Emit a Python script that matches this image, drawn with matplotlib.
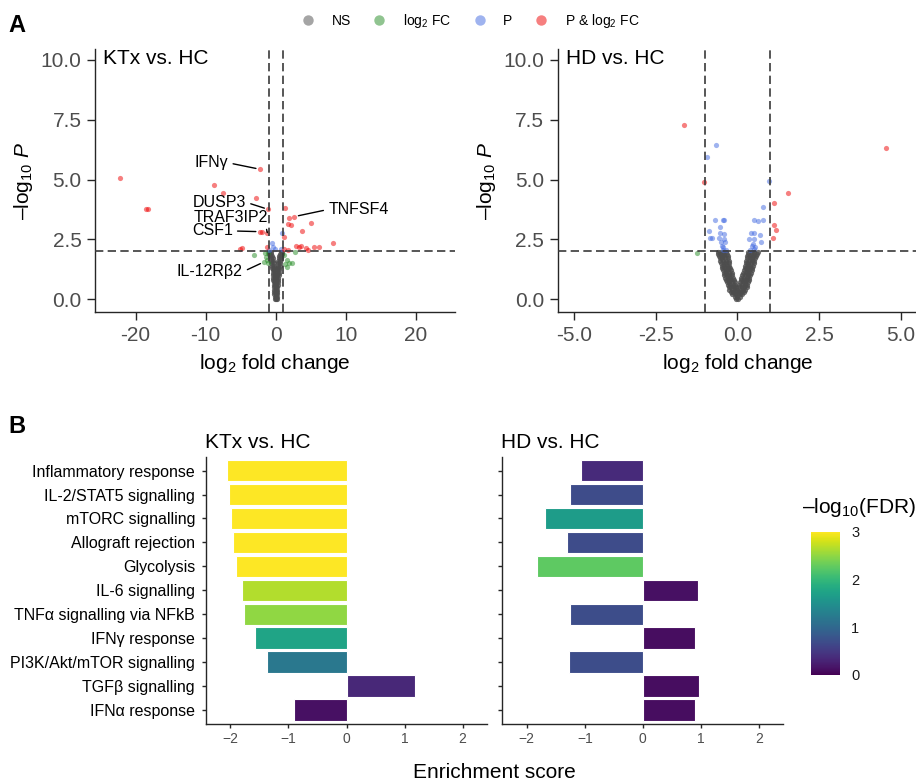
import matplotlib
matplotlib.use('Agg')
import matplotlib.pyplot as plt
import numpy as np
from matplotlib.lines import Line2D
from matplotlib import colors as mcolors
from matplotlib.cm import ScalarMappable

plt.rcParams['font.family'] = ['Liberation Sans', 'DejaVu Sans']
plt.rcParams['mathtext.fontset'] = 'custom'
plt.rcParams['mathtext.rm'] = 'Liberation Sans'
plt.rcParams['mathtext.it'] = 'Liberation Sans:italic'
plt.rcParams['mathtext.bf'] = 'Liberation Sans:bold'

# ---------------- DATA ----------------
# Volcano KTx vs HC
ktx_red_x = [-22.3, -18.5, -18.3, -8.8, -7.57, -2.81, -2.24, -1.05, -2.24, -1.9, -1.29,
             -5.1, -4.77, -1.2, 1.33, 1.9, 2.66, 1.71, 2.14, 5.04, 3.8, 1.23,
             1.23, 1.8, 2.9, 3.33, 3.61, 4.33, 4.66, 5.52, 6.23, 8.14]
ktx_red_y = [5.05, 3.75, 3.75, 4.76, 4.42, 4.24, 5.43, 3.75, 2.82, 2.82, 2.78,
             2.08, 2.12, 2.18, 3.81, 3.40, 3.45, 3.14, 3.08, 3.19, 2.86, 2.61,
             2.09, 2.05, 2.22, 2.16, 2.22, 2.12, 2.05, 2.16, 2.16, 2.33]
ktx_blue_x = [-0.57, -0.34, -0.91, 0.86, 0.71, -0.1]
ktx_blue_y = [2.33, 2.19, 2.05, 2.77, 2.08, 2.1]
ktx_green_x = [-3.06, -1.5, -1.14, -1.63, -1.14, -1.4, 1.57, 1.95, 2.29, 1.57, 1.14, 2.76, -1.3, 1.3]
ktx_green_y = [1.84, 1.93, 1.91, 1.56, 1.49, 1.77, 1.63, 1.52, 1.49, 1.35, 1.84, 1.95, 1.65, 1.45]
ktx_ns_rows = [
    (0.0, [-0.15, 0.0, 0.15]), (0.1, [-0.15, 0.0, 0.15]), (0.2, [-0.2, 0.0, 0.2]),
    (0.3, [-0.2, 0.0, 0.2]), (0.4, [-0.25, 0.0, 0.25]), (0.5, [-0.25, 0.0, 0.25]),
    (0.6, [-0.3, -0.1, 0.1, 0.3]), (0.7, [-0.3, -0.1, 0.1, 0.3]), (0.8, [-0.35, -0.1, 0.1, 0.35]),
    (0.9, [-0.35, -0.1, 0.1, 0.35]), (1.0, [-0.4, -0.15, 0.15, 0.4]), (1.1, [-0.4, -0.15, 0.15, 0.4]),
    (1.2, [-0.45, -0.2, 0.2, 0.45]), (1.3, [-0.5, -0.25, 0.25, 0.5]), (1.4, [-0.55, -0.3, 0.3, 0.55]),
    (1.5, [-0.6, -0.3, 0.3, 0.6]), (1.6, [-0.65, -0.35, 0.35, 0.65]), (1.7, [-0.7, -0.4, 0.4, 0.7]),
    (1.8, [-0.8, -0.5, 0.5, 0.8]), (1.9, [-0.9, -0.6, 0.6, 0.9]), (1.97, [-0.95, -0.7, 0.7, 0.95]),
]

# Volcano HD vs HC
hd_red_x = [-1.63, -1.01, 4.54, 1.56, 1.11, 1.13, 1.18, 1.08]
hd_red_y = [7.28, 4.91, 6.31, 4.44, 4.0, 3.10, 2.90, 2.55]
hd_blue_x = [-0.66, -0.92, 0.98, 0.78, -0.67, -0.43, -0.40, 0.52, 0.62, 0.78, -0.53, -0.86,
             -0.54, -0.42, -0.84, -0.77, -0.56, -0.40, -0.50, -0.48, -0.43, -0.37,
             0.42, 0.51, 0.68, 0.37, 0.52, 0.73, 0.49, 0.55, 0.45, 0.52, -0.35, 0.40, -0.45]
hd_blue_y = [6.46, 5.93, 4.92, 3.86, 3.32, 3.32, 3.32, 3.32, 3.28, 3.32, 3.03, 2.86,
             2.76, 2.72, 2.54, 2.54, 2.54, 2.51, 2.37, 2.23, 2.16, 2.37,
             2.75, 2.75, 2.68, 2.51, 2.51, 2.40, 2.30, 2.16, 2.20, 2.10, 2.05, 2.05, 2.05]
hd_green_x = [-1.24]
hd_green_y = [1.91]
hd_ns_rows = [
    (0.0, [-0.03, 0.03]),
    (0.1, [-0.08, 0.0, 0.08]),
    (0.2, [-0.15, -0.07, 0.0, 0.07, 0.15]),
    (0.3, [-0.2, -0.12, -0.04, 0.04, 0.12, 0.2]),
    (0.4, [-0.24, -0.16, -0.08, 0.0, 0.08, 0.16, 0.24]),
    (0.5, [-0.27, -0.19, -0.11, -0.03, 0.05, 0.13, 0.21, 0.28]),
    (0.6, [-0.3, -0.22, -0.14, -0.06, 0.06, 0.14, 0.22, 0.3]),
    (0.7, [-0.32, -0.24, -0.16, -0.08, 0.08, 0.16, 0.24, 0.32]),
    (0.8, [-0.35, -0.27, -0.19, -0.1, 0.1, 0.19, 0.27, 0.35]),
    (0.9, [-0.37, -0.29, -0.21, -0.12, 0.12, 0.21, 0.29, 0.37]),
    (1.0, [-0.4, -0.32, -0.24, -0.15, 0.15, 0.24, 0.32, 0.4]),
    (1.1, [-0.42, -0.34, -0.26, -0.17, 0.17, 0.26, 0.34, 0.42]),
    (1.2, [-0.44, -0.36, -0.28, -0.2, 0.2, 0.28, 0.36, 0.44]),
    (1.3, [-0.46, -0.38, -0.3, -0.22, 0.22, 0.3, 0.38, 0.46]),
    (1.4, [-0.48, -0.4, -0.32, -0.24, 0.24, 0.32, 0.4, 0.48]),
    (1.5, [-0.5, -0.42, -0.34, -0.26, 0.26, 0.34, 0.42, 0.5]),
    (1.6, [-0.52, -0.44, -0.36, -0.27, 0.27, 0.36, 0.44, 0.52]),
    (1.7, [-0.54, -0.46, -0.38, -0.28, 0.28, 0.38, 0.46, 0.55]),
    (1.8, [-0.56, -0.48, -0.4, -0.3, 0.3, 0.4, 0.48, 0.57]),
    (1.9, [-0.58, -0.5, -0.42, -0.32, 0.32, 0.42, 0.5, 0.6]),
    (1.97, [-0.6, -0.52, -0.44, -0.36, 0.34, 0.44, 0.52, 0.62]),
]

# Gene labels in KTx volcano: (label, point x, point y, text x, text y, ha, relpos)
ktx_labels = [
    ('IFNγ', -2.24, 5.43, -6.77, 5.70, 'right', (1, 0.5)),
    ('DUSP3', -1.05, 3.75, -4.24, 4.05, 'right', (1, 0.5)),
    ('TRAF3IP2', -1.2, 2.78, -1.14, 3.43, 'right', (0.97, 0.0)),
    ('CSF1', -2.24, 2.82, -6.14, 2.85, 'right', (1, 0.5)),
    ('TNFSF4', 2.66, 3.45, 7.5, 3.75, 'left', (0, 0.5)),
    ('IL-12Rβ2', -1.63, 1.56, -4.71, 1.14, 'right', (1, 0.5)),
]

# Enrichment (GSEA)
pathways = ['Inflammatory response', 'IL-2/STAT5 signalling', 'mTORC signalling',
            'Allograft rejection', 'Glycolysis', 'IL-6 signalling',
            'TNFα signalling via NFkB', 'IFNγ response', 'PI3K/Akt/mTOR signalling',
            'TGFβ signalling', 'IFNα response']
ktx_score = [-2.05, -2.03, -1.99, -1.95, -1.90, -1.80, -1.76, -1.57, -1.37, 1.18, -0.91]
ktx_fdr = [3.0, 3.0, 3.0, 3.0, 3.0, 2.65, 2.5, 1.75, 1.2, 0.33, 0.12]
hd_score = [-1.07, -1.26, -1.68, -1.31, -1.83, 0.955, -1.26, 0.90, -1.27, 0.967, 0.90]
hd_fdr = [0.36, 0.68, 1.65, 0.68, 2.25, 0.12, 0.7, 0.1, 0.7, 0.1, 0.1]
fdr_ticks = [0, 1, 2, 3]

# ---------------- FIGURE ----------------
W, H = 916, 782
fig = plt.figure(figsize=(W / 100, H / 100), dpi=100)


def rect(l, t, r, b):
    return [l / W, 1 - b / H, (r - l) / W, (b - t) / H]


RED, BLUE, GREEN, GREY = '#EE0000', '#4169E1', '#228B22', '#4D4D4D'
AXC = '#262626'
TICKC = '#4D4D4D'


def style_axes(ax, tick_len, lab_size, lab_color, pad):
    for s in ['top', 'right']:
        ax.spines[s].set_visible(False)
    for s in ['left', 'bottom']:
        ax.spines[s].set_color(AXC)
        ax.spines[s].set_linewidth(1.0)
    ax.tick_params(axis='both', length=tick_len, width=1.0, color=AXC,
                   labelsize=lab_size, labelcolor=lab_color, pad=pad)


def volcano(ax, red, blue, green, ns_rows, xlim, xticks, title):
    nsx = [x for y, xs in ns_rows for x in xs]
    nsy = [y for y, xs in ns_rows for x in xs]
    kw = dict(s=14, alpha=0.5, linewidths=0, zorder=2)
    ax.scatter(nsx, nsy, c=GREY, s=14, alpha=0.8, linewidths=0, zorder=2)
    ax.scatter(green[0], green[1], c=GREEN, **kw)
    ax.scatter(blue[0], blue[1], c=BLUE, **kw)
    ax.scatter(red[0], red[1], c=RED, **kw)
    ls = dict(color='#3a3a3a', lw=1.2, ls=(0, (5, 2.6)), zorder=3)
    ax.axvline(-1, **ls)
    ax.axvline(1, **ls)
    ax.axhline(2, **ls)
    ax.set_xlim(*xlim)
    ax.set_ylim(-0.54, 10.46)
    ax.set_xticks(xticks)
    ax.set_yticks([0, 2.5, 5, 7.5, 10])
    ax.set_yticklabels(['0.0', '2.5', '5.0', '7.5', '10.0'])
    style_axes(ax, 5.8, 15, TICKC, 4)
    ax.set_xlabel('log$_2$ fold change', fontsize=15, labelpad=5)
    ax.set_ylabel('\u2013log$_{10}$ $\\mathit{P}$', fontsize=15, labelpad=4)
    ax.text(0.022, 0.943, title, transform=ax.transAxes, fontsize=15,
            ha='left', va='baseline')


ax1 = fig.add_axes(rect(95, 49, 455, 312))
volcano(ax1, (ktx_red_x, ktx_red_y), (ktx_blue_x, ktx_blue_y), (ktx_green_x, ktx_green_y),
        ktx_ns_rows, (-25.8, 25.6), [-20, -10, 0, 10, 20], 'KTx vs. HC')
ax1.set_xticklabels(['-20', '-10', '0', '10', '20'])
for lab, px, py, tx, ty, ha, rp in ktx_labels:
    ax1.annotate(lab, xy=(px, py), xytext=(tx, ty), ha=ha, va='center', fontsize=11.5,
                 zorder=5,
                 arrowprops=dict(arrowstyle='-', color='black', lw=1.0, shrinkA=1.5,
                                 shrinkB=3, relpos=rp))

ax2 = fig.add_axes(rect(557.7, 49, 917, 312))
volcano(ax2, (hd_red_x, hd_red_y), (hd_blue_x, hd_blue_y), (hd_green_x, hd_green_y),
        hd_ns_rows, (-5.49, 5.49), [-5, -2.5, 0, 2.5, 5], 'HD vs. HC')
ax2.set_xticklabels(['-5.0', '-2.5', '0.0', '2.5', '5.0'])

# legend
handles = [Line2D([], [], marker='o', ls='', markersize=7.5, markerfacecolor=c,
                  markeredgewidth=0, alpha=0.5) for c in [GREY, GREEN, BLUE, RED]]
labels = ['NS', 'log$_2$ FC', 'P', 'P & log$_2$ FC']
fig.legend(handles, labels, loc='center', bbox_to_anchor=(469.4 / W, 1 - 21 / H), ncol=4,
           frameon=False, fontsize=10, handlelength=1.2, handletextpad=1.1,
           columnspacing=1.45, borderpad=0.2)

fig.text(8 / W, 1 - 32 / H, 'A', fontsize=17, fontweight='bold', ha='left', va='baseline')
fig.text(8 / W, 1 - 432.7 / H, 'B', fontsize=17, fontweight='bold', ha='left', va='baseline')

# ---------------- BARS ----------------
cmap = plt.get_cmap('viridis')
norm = mcolors.Normalize(vmin=0, vmax=3)
ypos = np.arange(len(pathways))[::-1] + 1


def bars(ax, scores, fdr, title, show_labels):
    ax.barh(ypos, scores, height=0.9, color=cmap(norm(np.clip(fdr, 0, 3))),
            edgecolor='white', linewidth=0.8, zorder=2)
    ax.set_xlim(-2.42, 2.42)
    ax.set_ylim(0.42, 11.58)
    ax.set_xticks([-2, -1, 0, 1, 2])
    ax.set_yticks(ypos)
    style_axes(ax, 2.9, 10, TICKC, 3)
    if show_labels:
        ax.set_yticklabels(pathways)
        ax.tick_params(axis='y', labelsize=11.5, labelcolor='black', pad=5)
    else:
        ax.set_yticklabels([])
    ax.text(-0.005, 1.034, title, transform=ax.transAxes, fontsize=15,
            ha='left', va='baseline')


bx1 = fig.add_axes(rect(206, 456.7, 487, 724))
bars(bx1, ktx_score, ktx_fdr, 'KTx vs. HC', True)
bx2 = fig.add_axes(rect(502.3, 456.7, 783.3, 724))
bars(bx2, hd_score, hd_fdr, 'HD vs. HC', False)

fig.text(494.6 / W, 1 - 778 / H, 'Enrichment score', fontsize=15, ha='center',
         va='baseline')

# colorbar
cax = fig.add_axes(rect(811, 531.7, 840, 675))
sm = ScalarMappable(norm=norm, cmap=cmap)
cb = fig.colorbar(sm, cax=cax, ticks=fdr_ticks, extend='neither')
cb.outline.set_visible(False)
cax.tick_params(axis='y', which='both', direction='in', length=5.5, width=0.8,
                color='white', labelsize=10.5, labelcolor='#1a1a1a', pad=8,
                left=True, right=True)
for t in cax.yaxis.get_major_ticks():
    if t.get_loc() in (0, 3):
        t.tick1line.set_visible(False)
        t.tick2line.set_visible(False)
fig.text(801.7 / W, 1 - 513.3 / H, '\u2013log$_{10}$(FDR)', fontsize=15,
         ha='left', va='baseline')

fig.savefig('out.png', dpi=100)
